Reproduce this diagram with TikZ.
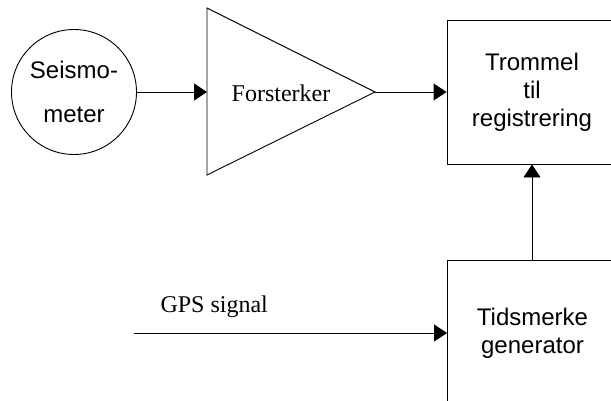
\documentclass[tikz,border=0pt]{standalone}
\usepackage{fontspec}
\setmainfont{Liberation Serif}
\newfontfamily\arialf{Liberation Sans}
\usetikzlibrary{arrows.meta}
\begin{document}
\begin{tikzpicture}[x=1pt,y=1pt,
  line/.style={draw=black,line width=0.9pt},
  conn/.style={line,-{Triangle[length=13pt,width=17pt]}},
  sans/.style={font=\arialf\fontsize{24}{28}\selectfont,align=center},
  blockbox/.style={line,sans,minimum width=170pt,inner sep=0pt}
]
\useasboundingbox (0,0) rectangle (611,400);
\begin{scope}
\clip (0,0) rectangle (611,400);
\node[line,circle,minimum size=125pt,inner sep=0pt,align=center,
  font=\arialf\fontsize{24}{44}\selectfont] (seis) at (74,308) {Seismo-\\meter};
\coordinate (ampin) at (207,308);
\coordinate (ampout) at (375,308);
\draw[line,line join=miter] (207,392) -- (ampout) -- (207,225) -- cycle;
\node[font=\fontsize{24}{28}\selectfont] (amp) at (281,307) {Forsterker};
\node[blockbox,minimum height=144pt] (drum) at (532,308) {Trommel\\til\\registrering};
\node[blockbox,minimum height=146pt] (gen) at (532.5,67) {Tidsmerke\\generator};
\coordinate (gps) at (134,67);
\node[font=\fontsize{24}{28}\selectfont,anchor=base west] (gpslabel) at (157,88) {GPS signal};
\draw[conn] (seis.east) -- (ampin);
\draw[conn] (ampout) -- (drum.west |- ampout);
\draw[conn] (gen.north -| 532,0) -- (drum.south -| 532,0);
\draw[conn] (gps) -- (gen.west |- gps);
\end{scope}
\end{tikzpicture}
\end{document}
